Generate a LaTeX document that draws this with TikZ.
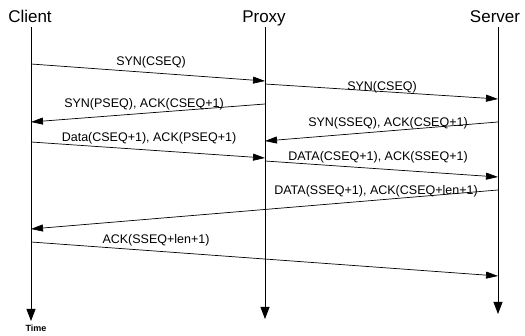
\documentclass[tikz,border=0pt]{standalone}
\usepackage{fontspec}
\setmainfont{Liberation Sans}
\usetikzlibrary{arrows.meta}

\begin{document}
\begin{tikzpicture}[x=1pt,y=-1pt,
  head/.style={anchor=base,font=\fontsize{17}{20}\selectfont},
  msg/.style={inner sep=0.5pt,font=\fontsize{12.5}{14}\selectfont},
  life/.style={line width=0.8pt,-{Triangle[length=12pt,width=9pt]}},
  arr/.style={line width=0.7pt,-{Triangle[length=12pt,width=7pt]}}]
\useasboundingbox (0,0) rectangle (525,336);
% the three parties
\node[head] (client) at (30,22.5) {Client};
\node[head] (proxy) at (264,22.5) {Proxy};
\node[head] (server) at (495,22.5) {Server};
\coordinate (cend) at (31,321);
\coordinate (pend) at (265,319);
\coordinate (send) at (498,314);
\draw[life] (31,27) -- (cend);
\draw[life] (265,27) -- (pend);
\draw[life] (498,27) -- (send);
\node[font=\bfseries\fontsize{9}{11}\selectfont] (time) at (36,328.5) {Time};
% messages
\foreach \i/\xa/\ya/\xb/\yb/\lx/\ly/\txt in {
  1/31/64/265/81/151/62/{SYN(CSEQ)},
  2/265/84/498/99/382/87/{SYN(CSEQ)},
  3/265/104/31/122/144/104/{SYN(PSEQ), ACK(CSEQ+1)},
  4/498/122/265/141/388/123/{SYN(SSEQ), ACK(CSEQ+1)},
  5/31/142/265/158/149/138/{Data(CSEQ+1), ACK(PSEQ+1)},
  6/265/161/498/177/378/157/{DATA(CSEQ+1), ACK(SSEQ+1)},
  7/498/190/31/229/376/191/{DATA(SSEQ+1), ACK(CSEQ+len+1)},
  8/31/242/498/276/156/240/{ACK(SSEQ+len+1)}}
{
  \coordinate (m\i a) at (\xa,\ya);
  \coordinate (m\i b) at (\xb,\yb);
  \draw[arr] (m\i a) -- (m\i b);
  \node[msg] (t\i) at (\lx,\ly) {\txt};
}
\end{tikzpicture}
\end{document}
